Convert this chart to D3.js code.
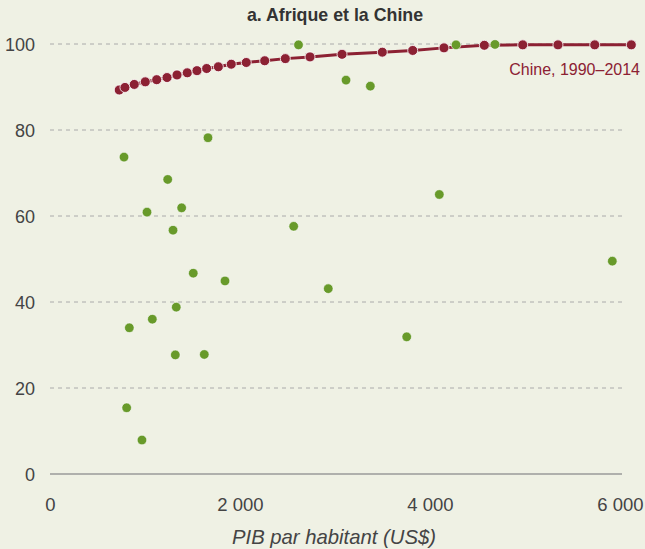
<!DOCTYPE html>
<html><head><meta charset="utf-8">
<script src="https://cdn.jsdelivr.net/npm/d3@7"></script>
<style>
html,body{margin:0;padding:0;background:#eff1e4;}
svg{display:block;}
text{font-family:"Liberation Sans",Arial,Helvetica,sans-serif;}
</style></head>
<body>
<svg id="chart" width="645" height="549"></svg>
<script>
// Chine 1990–2014: PIB par habitant (US$) et valeur (%)
const chinaYears = d3.range(1990, 2015);
const chinaGdp = [729, 789, 887, 1003, 1123, 1232, 1337, 1445, 1547, 1649, 1772, 1908, 2066, 2260, 2477, 2737, 3074, 3498, 3818, 4147, 4572, 4976, 5347, 5734, 6119];
const chinaVal = [89.3, 89.9, 90.6, 91.2, 91.7, 92.2, 92.8, 93.3, 93.8, 94.3, 94.7, 95.3, 95.7, 96.1, 96.6, 97.0, 97.6, 98.1, 98.5, 99.1, 99.7, 99.8, 99.8, 99.8, 99.8];
// Pays africains
const africaGdp = [779, 1663, 1239, 1021, 1386, 1295, 2565, 1508, 1842, 2929, 1329, 1077, 835, 1319, 1624, 807, 968, 4098, 5919, 3755, 2616, 3116, 3372, 4274, 4684];
const africaVal = [73.7, 78.2, 68.5, 60.9, 61.9, 56.7, 57.6, 46.7, 44.9, 43.1, 38.8, 36.0, 34.0, 27.7, 27.8, 15.4, 7.9, 65.0, 49.5, 31.9, 99.8, 91.6, 90.2, 99.8, 99.9];
const xTicks = [0, 2000, 4000, 6000];
const yTicks = [0, 20, 40, 60, 80, 100];
const title = "a. Afrique et la Chine";
const xTitle = "PIB par habitant (US$)";
const chinaLabel = "Chine, 1990–2014";

const svg = d3.select("#chart");
const x = d3.scaleLinear().domain([0, 6000]).range([50, 620]);
const y = d3.scaleLinear().domain([0, 100]).range([474, 44]);
const fmtX = d => d === 0 ? "0" : d3.format(",")(d).replace(/,/g, " ");

const textCol = "#444";
// gridlines
svg.append("g").selectAll("line").data(yTicks.filter(d => d > 0)).join("line")
  .attr("x1", 50).attr("x2", 622)
  .attr("y1", d => y(d)).attr("y2", d => y(d))
  .attr("stroke", "#aaaaaa").attr("stroke-width", 1).attr("stroke-dasharray", "4,4");
// zero axis
svg.append("line").attr("x1", 50).attr("x2", 622).attr("y1", y(0)).attr("y2", y(0))
  .attr("stroke", "#9a9a9a").attr("stroke-width", 1.3);

// y axis labels
const yAxis = d3.axisLeft(y).tickValues(yTicks).tickSize(0).tickPadding(0).tickFormat(d3.format("d"));
const gy = svg.append("g").attr("transform", "translate(35,0)").call(yAxis);
gy.select(".domain").remove();
gy.selectAll("text").attr("font-size", 18).attr("fill", textCol)
  .attr("font-family", "Liberation Sans, Arial, sans-serif").attr("dy", "0.34em");

// x axis labels
const xAxis = d3.axisBottom(x).tickValues(xTicks).tickSize(0).tickPadding(0).tickFormat(fmtX);
const gx = svg.append("g").attr("transform", "translate(0,498)").call(xAxis);
gx.select(".domain").remove();
gx.selectAll("text").attr("font-size", 18.5).attr("fill", textCol)
  .attr("font-family", "Liberation Sans, Arial, sans-serif").attr("dy", "0.72em");

// x axis title
svg.append("text").attr("x", 334).attr("y", 544).attr("text-anchor", "middle")
  .attr("font-size", 20.3).attr("font-style", "italic").attr("fill", textCol).text(xTitle);

// title
svg.append("text").attr("x", 335).attr("y", 21).attr("text-anchor", "middle")
  .attr("font-size", 17.8).attr("font-weight", "bold").attr("fill", "#333").text(title);

// China line + dots
const red = "#8c2133";
const china = chinaGdp.map((g, i) => ({g, v: chinaVal[i], yr: chinaYears[i]}));
svg.append("path").datum(china)
  .attr("d", d3.line().x(d => x(d.g)).y(d => y(d.v)))
  .attr("fill", "none").attr("stroke", red).attr("stroke-width", 3);
svg.append("g").selectAll("circle").data(china).join("circle")
  .attr("cx", d => x(d.g)).attr("cy", d => y(d.v)).attr("r", 5)
  .attr("fill", red).attr("stroke", "#ffffff").attr("stroke-width", 0.8);

// Africa dots
const africa = africaGdp.map((g, i) => ({g, v: africaVal[i]}));
svg.append("g").selectAll("circle").data(africa).join("circle")
  .attr("cx", d => x(d.g)).attr("cy", d => y(d.v)).attr("r", 4.8)
  .attr("fill", "#689a2a").attr("stroke", "#ffffff").attr("stroke-width", 0.6);

// China label
svg.append("text").attr("x", 640).attr("y", 75).attr("text-anchor", "end")
  .attr("font-size", 16).attr("fill", red).text(chinaLabel);
</script>
</body></html>
